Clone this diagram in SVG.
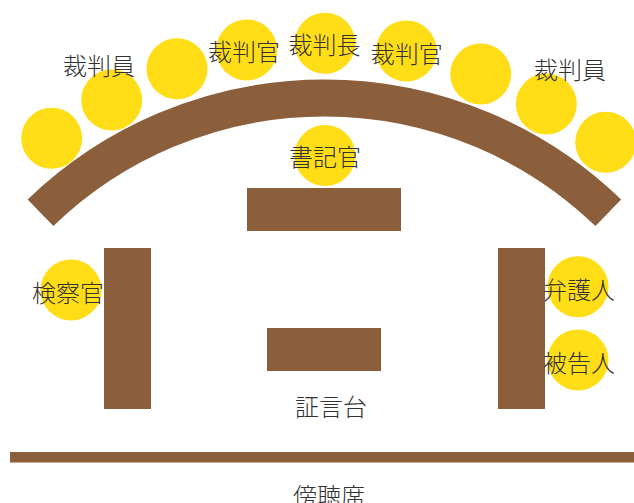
<svg xmlns="http://www.w3.org/2000/svg" width="634" height="503" viewBox="0 0 634 503">
<style>
.seat{fill:#FFDD17}
.furn{fill:#8B5F3C}
.lbl{font-family:"Noto Sans CJK JP","Noto Sans",sans-serif;font-size:24px;font-weight:300;fill:#333;text-anchor:middle;dominant-baseline:central}
</style>
<rect width="634" height="503" fill="#fff"/>
<g id="seats-bench">
<circle class="seat" cx="51.7" cy="138.3" r="30.5"/>
<circle class="seat" cx="111.7" cy="100" r="30.5"/>
<circle class="seat" cx="177" cy="68.7" r="30.5"/>
<circle class="seat" cx="246.7" cy="50" r="30.5"/>
<circle class="seat" cx="325" cy="43.3" r="30.5"/>
<circle class="seat" cx="406.3" cy="51" r="30.5"/>
<circle class="seat" cx="480.7" cy="74" r="30.5"/>
<circle class="seat" cx="546.3" cy="104" r="30.5"/>
<circle class="seat" cx="605.7" cy="142.3" r="30.5"/>
</g>
<g id="bench">
<path d="M40.5 212.8 A408.4 408.4 0 0 1 608.3 212.8" fill="none" stroke="#8B5F3C" stroke-width="37"/>
</g>
<g id="clerk">
<circle class="seat" cx="325" cy="155.5" r="30.5"/>
<rect class="furn" x="247" y="188" width="154" height="43"/>
<text class="lbl" x="325" y="155">書記官</text>
</g>
<g id="prosecutor">
<circle class="seat" cx="71" cy="290" r="30.5"/>
<rect class="furn" x="104" y="248" width="47" height="161"/>
<text class="lbl" x="68" y="291">検察官</text>
</g>
<g id="defense">
<rect class="furn" x="498" y="248" width="47" height="161"/>
<circle class="seat" cx="578" cy="286.7" r="30.5"/>
<circle class="seat" cx="578" cy="360" r="30.5"/>
<text class="lbl" x="579" y="288.7">弁護人</text>
<text class="lbl" x="579" y="361">被告人</text>
</g>
<g id="witness">
<rect class="furn" x="267" y="328" width="114" height="43"/>
<text class="lbl" x="331" y="405">証言台</text>
</g>
<g id="gallery">
<rect class="furn" x="10" y="452" width="624" height="10.5"/>
<text class="lbl" x="329" y="494.5">傍聴席</text>
</g>
<g id="bench-labels">
<text class="lbl" x="99" y="64">裁判員</text>
<text class="lbl" x="244" y="50">裁判官</text>
<text class="lbl" x="324.5" y="43">裁判長</text>
<text class="lbl" x="406.7" y="52">裁判官</text>
<text class="lbl" x="570" y="68">裁判員</text>
</g>
<g id="connectors"/>
</svg>
